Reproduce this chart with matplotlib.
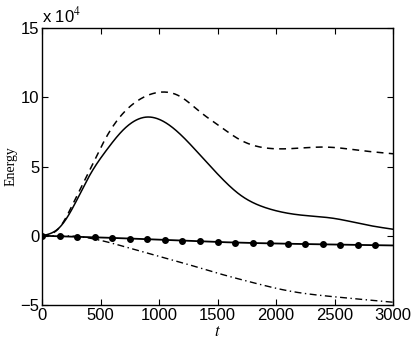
import numpy as np
import matplotlib
matplotlib.use('Agg')
import matplotlib.pyplot as plt

# energy values, in units of 1e4
t_dash = [0, 150, 268, 410, 553, 695, 838, 994, 1180, 1350, 1521, 1692, 1920, 2205, 2433, 2718, 3000]
e_dash = [0, 0.6, 2.36, 4.77, 7.17, 8.86, 9.86, 10.35, 10.06, 8.95, 7.9, 6.93, 6.33, 6.33, 6.4, 6.16, 5.92]

t_solid = [0, 150, 268, 410, 553, 695, 895, 1122, 1322, 1521, 1692, 1920, 2205, 2490, 2775, 3000]
e_solid = [0, 0.6, 2.1, 4.4, 6.2, 7.65, 8.57, 7.77, 6.1, 4.28, 2.96, 2.0, 1.5, 1.26, 0.78, 0.47]

t_dot = [0, 750, 1500, 2250, 3000]
e_dot = [0, -0.2, -0.45, -0.6, -0.7]

t_dashdot = [0, 150, 300, 752, 1207, 1500, 1810, 2120, 2490, 3000]
e_dashdot = [0, 0, -0.05, -0.9, -1.97, -2.7, -3.4, -4.0, -4.4, -4.8]

marker_t = np.arange(0, 3000, 150)


def spline(tk, ek, n=600):
    # natural cubic spline through the read points
    x = np.asarray(tk, float)
    y = np.asarray(ek, float)
    k = len(x)
    h = np.diff(x)
    A = np.zeros((k, k))
    r = np.zeros(k)
    A[0, 0] = A[-1, -1] = 1
    for i in range(1, k - 1):
        A[i, i - 1] = h[i - 1]
        A[i, i] = 2 * (h[i - 1] + h[i])
        A[i, i + 1] = h[i]
        r[i] = 6 * ((y[i + 1] - y[i]) / h[i] - (y[i] - y[i - 1]) / h[i - 1])
    M = np.linalg.solve(A, r)
    tt = np.linspace(x[0], x[-1], n)
    j = np.clip(np.searchsorted(x, tt) - 1, 0, k - 2)
    a = x[j + 1] - tt
    b = tt - x[j]
    hj = h[j]
    ee = (M[j] * a**3 + M[j + 1] * b**3) / (6 * hj) \
        + (y[j] / hj - M[j] * hj / 6) * a + (y[j + 1] / hj - M[j + 1] * hj / 6) * b
    return tt, ee


plt.rcParams['font.family'] = 'Liberation Sans'
plt.rcParams['mathtext.fontset'] = 'stix'

fig = plt.figure(figsize=(4.15, 3.43), dpi=100)
ax = fig.add_axes([42 / 415, 1 - 305 / 343, 351 / 415, 277 / 343])

tt, ee = spline(t_dash, e_dash)
ax.plot(tt, ee, 'k--', lw=1.1, dashes=(4.5, 3.5))
tt, ee = spline(t_solid, e_solid)
ax.plot(tt, ee, 'k-', lw=1.1)
tt, ee = spline(t_dashdot, e_dashdot)
ax.plot(tt, ee, 'k-.', lw=1.0, dashes=(5, 2.5, 1, 2.5))
tt, ee = spline(t_dot, e_dot)
ax.plot(tt, ee, 'k-', lw=1.3)
ax.plot(marker_t, np.interp(marker_t, tt, ee), 'ko', ms=4, ls='none')

ax.set_xlim(0, 3000)
ax.set_ylim(-5, 15)
ax.set_xticks(np.arange(0, 3001, 500))
ax.set_yticks([-5, 0, 5, 10, 15])
ax.set_yticklabels(['\u22125', '0', '5', '10', '15'])
ax.tick_params(direction='in', top=True, right=True, length=4, width=0.8,
               labelsize=12, pad=2)
for sp in ax.spines.values():
    sp.set_linewidth(1.0)

ax.text(0.0, 1.01, 'x 10$^4$', transform=ax.transAxes, fontsize=12,
        ha='left', va='bottom')
ax.set_xlabel('$t$', fontsize=12, labelpad=1)
ax.set_ylabel('Energy', fontsize=10, family='Liberation Serif', labelpad=2)

fig.savefig('out.png', dpi=100)
